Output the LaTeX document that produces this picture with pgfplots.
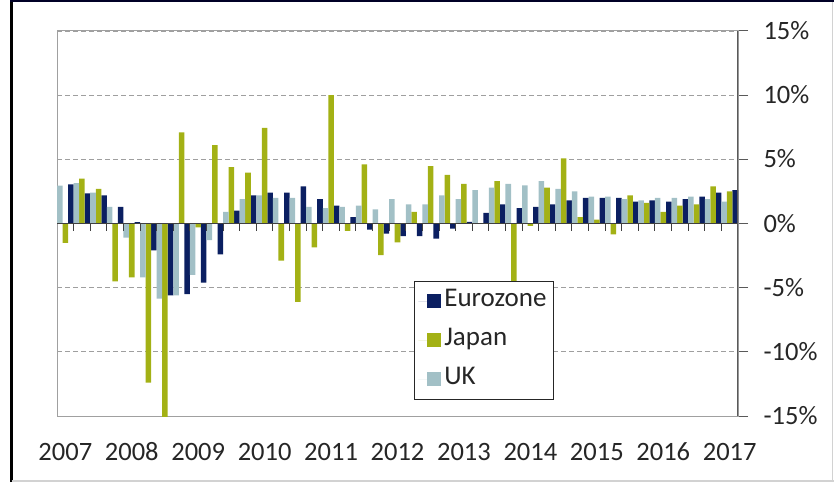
\documentclass[border=0pt]{standalone}
\usepackage{pgfplots}
\pgfplotsset{compat=1.18}
\usepackage{pgfplotstable}
\usepackage{fontspec}
\setmainfont{Carlito}
\definecolor{ezc}{HTML}{0B1F61}
\definecolor{jpc}{HTML}{A3B115}
\definecolor{ukc}{HTML}{A2C0C6}
\definecolor{framegray}{HTML}{A0A0A0}
\definecolor{axisdark}{HTML}{595959}
\pgfplotstableread{
k uk jp ez
0 2.95 -1.5 3.05
1 3.15 3.5 2.35
2 2.4 2.7 2.2
3 1.3 -4.5 1.3
4 -1.1 -4.2 0.1
5 -4.2 -12.4 -2.1
6 -5.85 -17.0 -5.6
7 -5.6 7.1 -5.5
8 -4.0 -0.3 -4.6
9 -1.3 6.1 -2.4
10 0.9 4.4 1.0
11 1.9 3.96 2.2
12 2.2 7.46 2.4
13 2.0 -2.9 2.4
14 2.0 -6.1 2.9
15 1.3 -1.87 1.9
16 1.2 10.0 1.4
17 1.3 -0.57 0.5
18 1.4 4.6 -0.47
19 1.1 -2.46 -0.78
20 1.9 -1.48 -0.98
21 1.5 0.9 -0.98
22 1.5 4.48 -1.17
23 2.2 3.78 -0.39
24 1.9 3.08 0.13
25 2.6 0.0 0.83
26 2.8 3.3 1.5
27 3.08 -7.0 1.2
28 2.98 -0.18 1.3
29 3.3 2.8 1.5
30 2.7 5.08 1.8
31 2.5 0.5 2.0
32 2.1 0.3 2.0
33 2.1 -0.85 2.0
34 1.9 2.2 1.7
35 1.8 1.6 1.8
36 2.0 0.9 1.7
37 2.0 1.4 1.9
38 2.1 1.5 2.1
39 1.9 2.9 2.4
40 1.7 2.5 2.6
}\gdpdata
\begin{document}
\begin{tikzpicture}[x=1pt,y=1pt]
\path[use as bounding box] (0,0) rectangle (834,482);
\begin{axis}[
  at={(57pt,66pt)}, anchor=south west,
  scale only axis, width=681pt, height=385pt,
  xmin=0, xmax=41, ymin=-15, ymax=15,
  ybar, bar width=0.3333, bar shift=0pt,
  legend image code/.code={\path (0pt,0pt) -- (11pt,0pt); \fill[#1] (9pt,-7pt) rectangle (23pt,7pt);},
  axis line style={framegray, line width=1pt},
  xtick={0.5,4.5,...,40.5},
  xticklabels={2007,2008,2009,2010,2011,2012,2013,2014,2015,2016,2017},
  x tick style={draw=none},
  xticklabel style={anchor=base, yshift=-34pt, text height=18pt, text depth=0pt},
  ytick={-15,-10,-5,0,5,10,15},
  yticklabels={-15\%,-10\%,-5\%,0\%,5\%,10\%,15\%},
  ytick pos=right, yticklabel pos=right,
  tick align=outside, major tick length=10pt,
  y tick style={axisdark, line width=1pt},
  yticklabel style={anchor=west, xshift=12pt, text height=17pt, text depth=0pt},
  ymajorgrids,
  grid style={gray!75, line width=0.9pt, dash pattern=on 5pt off 3pt},
  tick label style={font=\fontsize{26.5}{30}\selectfont, text=black!85},
  /pgf/number format/assume math mode=true,
  legend style={at={(0.524,0.351)}, anchor=north west, draw=black!85, line width=1pt,
    fill=white, font=\fontsize{27}{30}\selectfont, text=black!85,
    inner xsep=4pt, inner ysep=0.5pt, row sep=0pt,
    nodes={inner xsep=3pt, inner ysep=0pt, text height=25pt, text depth=14pt}},
  legend cell align=left,
]
\addplot[fill=ezc, draw=none] table[x expr=\thisrow{k}+0.8333, y=ez] {\gdpdata};
\addplot[fill=jpc, draw=none] table[x expr=\thisrow{k}+0.5, y=jp] {\gdpdata};
\addplot[fill=ukc, draw=none] table[x expr=\thisrow{k}+0.1667, y=uk] {\gdpdata};
\legend{Eurozone, Japan, UK}
\draw[black!75, line width=1pt] (axis cs:0,0) -- (axis cs:41,0);
\pgfplotsinvokeforeach{1,...,40}{\draw[black!75, line width=1pt] (axis cs:#1,0) -- ++(0pt,-7pt);}
\draw[axisdark, line width=1.2pt] (rel axis cs:1,0) -- (rel axis cs:1,1);
\end{axis}
\draw[black, line width=3pt] (11.5,0) -- (11.5,482);
\draw[black!85!blue, line width=2.5pt] (10,480.8) -- (834,480.8);
\draw[gray!35, line width=1.5pt] (832.5,0) -- (832.5,480);
\draw[gray!35, line width=1.5pt] (11.5,1.2) -- (834,1.2);
\end{tikzpicture}
\end{document}
